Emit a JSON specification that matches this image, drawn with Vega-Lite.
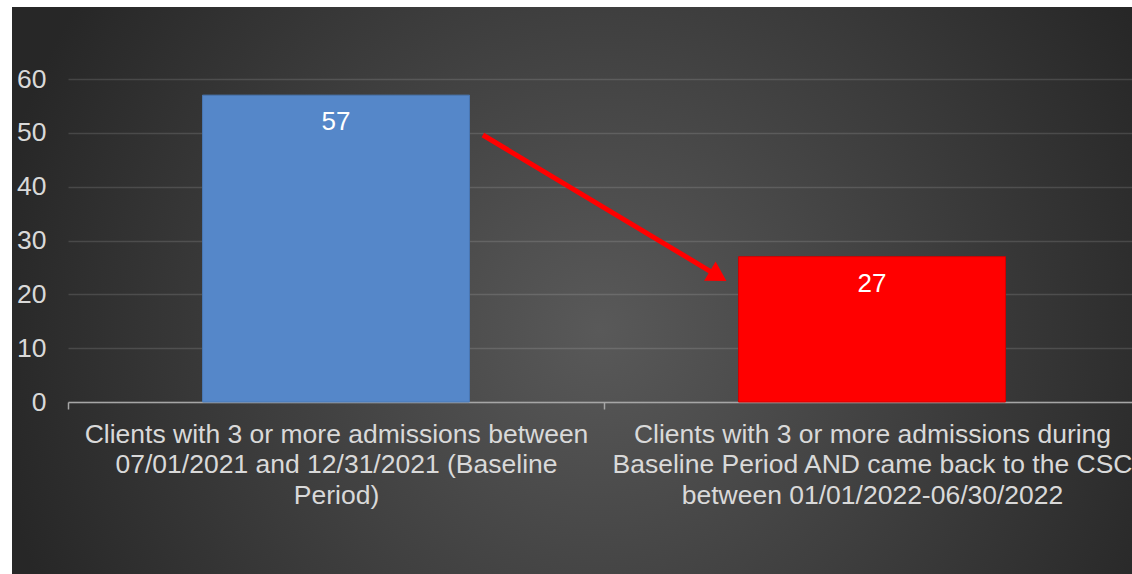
{
  "$schema": "https://vega.github.io/schema/vega-lite/v6.json",
  "autosize": "none",
  "padding": {"left": 12, "top": 7, "right": 0, "bottom": 0},
  "width": 1120,
  "height": 567,
  "background": "#ffffff",
  "view": {
    "fill": {"gradient": "radial", "x1": 0.525, "y1": 0.535, "r1": 0, "x2": 0.525, "y2": 0.535, "r2": 0.55,
      "stops": [{"offset": 0, "color": "#595959"}, {"offset": 1, "color": "#272727"}]},
    "stroke": null
  },
  "config": {"font": "Liberation Sans"},
  "datasets": {
    "bars": [
      {"category": "Clients with 3 or more admissions between|07/01/2021 and 12/31/2021 (Baseline|Period)", "value": 57},
      {"category": "Clients with 3 or more admissions during|Baseline Period AND came back to the CSC|between 01/01/2022-06/30/2022", "value": 27}
    ],
    "arrow": [
      {"from": "Clients with 3 or more admissions between|07/01/2021 and 12/31/2021 (Baseline|Period)",
       "to": "Clients with 3 or more admissions during|Baseline Period AND came back to the CSC|between 01/01/2022-06/30/2022",
       "ys": 49.6, "ye": 23.4}
    ]
  },
  "layer": [
    {
      "data": {"name": "bars"},
      "mark": {"type": "bar", "width": {"band": 0.498}, "strokeWidth": 1},
      "encoding": {
        "x": {"field": "category", "type": "nominal", "sort": null,
          "scale": {"range": [56, 1128], "paddingInner": 0, "paddingOuter": 0},
          "axis": {"title": null, "labelExpr": "split(datum.label, '|')", "labelAngle": 0, "labelColor": "#d9d9d9",
            "labelFontSize": 26.5, "labelLineHeight": 30.5, "labelLimit": 0, "labelOverlap": false, "labelBound": false,
            "labelFlush": false, "labelPadding": 12, "labelBaseline": "top", "tickBand": "extent", "tickSize": 7,
            "tickColor": "#a6a6a6", "tickWidth": 1.5, "domainColor": "#a6a6a6", "domainWidth": 1.5, "offset": -172, "grid": false}},
        "y": {"field": "value", "type": "quantitative",
          "scale": {"domain": [0, 60], "range": [395, 72], "nice": false},
          "axis": {"title": null, "values": [0, 10, 20, 30, 40, 50, 60], "domain": false, "ticks": false, "tickSize": 0, "offset": -56,
            "labelPadding": 22, "labelColor": "#d9d9d9", "labelFontSize": 26.5, "gridColor": "#ffffff", "gridOpacity": 0.13, "gridWidth": 1.5}},
        "color": {"field": "category", "type": "nominal", "sort": null, "scale": {"range": ["#5587c9", "#ff0000"]}, "legend": null},
        "stroke": {"field": "category", "type": "nominal", "sort": null, "scale": {"range": ["#4a78b4", "#d40000"]}, "legend": null}
      }
    },
    {
      "data": {"name": "bars"},
      "mark": {"type": "text", "dy": 27, "color": "#ffffff", "fontSize": 26, "baseline": "middle", "align": "center"},
      "encoding": {
        "x": {"field": "category", "type": "nominal", "sort": null},
        "y": {"field": "value", "type": "quantitative"},
        "text": {"field": "value"}
      }
    },
    {
      "data": {"name": "arrow"},
      "mark": {"type": "rule", "color": "#ff0000", "strokeWidth": 5},
      "encoding": {
        "x": {"field": "from", "type": "nominal", "sort": null, "bandPosition": 0.774},
        "x2": {"field": "to", "bandPosition": 0.213},
        "y": {"field": "ys", "type": "quantitative"},
        "y2": {"field": "ye"}
      }
    },
    {
      "data": {"name": "arrow"},
      "mark": {"type": "point", "shape": "triangle-right", "filled": true, "color": "#ff0000", "opacity": 1, "size": 500, "angle": 31},
      "encoding": {
        "x": {"field": "to", "type": "nominal", "sort": null, "bandPosition": 0.213},
        "y": {"field": "ye", "type": "quantitative"}
      }
    }
  ]
}
